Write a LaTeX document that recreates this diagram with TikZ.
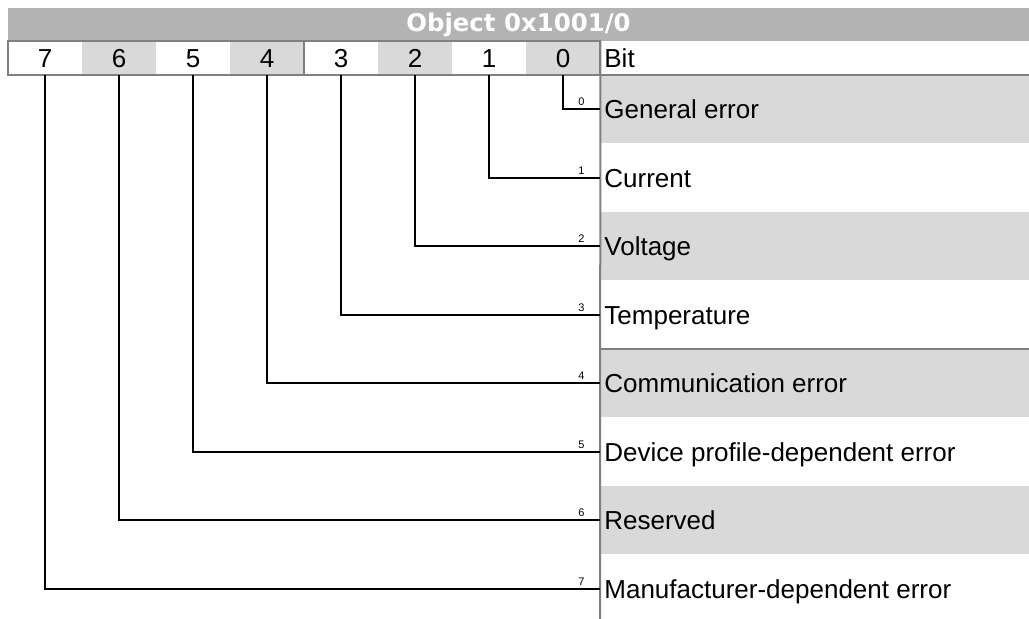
\documentclass[tikz,border=0pt]{standalone}
\usepackage{fontspec}
\setmainfont{Liberation Sans}
\newfontfamily\titlefont{DejaVu Sans}
\usetikzlibrary{positioning}

\definecolor{bargray}{HTML}{B3B3B3}
\definecolor{cellgray}{HTML}{D9D9D9}
\definecolor{rulegray}{HTML}{808080}

\begin{document}
\begin{tikzpicture}[
    x=0.5pt, y=-0.5pt,
    titlebar/.style={rectangle, fill=bargray, text=white, inner sep=0pt,
                     minimum width=510.5pt, minimum height=16.5pt,
                     font=\titlefont\bfseries\fontsize{12.2}{14}\selectfont},
    bitcell/.style={rectangle, inner sep=0pt, minimum width=37pt, minimum height=17pt,
                    text height=9.4pt, text depth=0pt,
                    font=\fontsize{13}{15}\selectfont},
    rowlabel/.style={inner sep=0pt, text height=9.5pt, text depth=0pt,
                     font=\fontsize{13}{15}\selectfont},
    sublabel/.style={inner sep=0pt, font=\fontsize{5.5}{6}\selectfont},
    leader/.style={line width=1pt, black},
    rule/.style={line width=1pt, rulegray}
  ]
    \useasboundingbox (0,0) rectangle (1029,619);

    % Titel
    \node[titlebar] (title) at (518.5,24.5) {Object 0x1001/0};

    % Bitzellen
    \foreach \i/\c in {0/cellgray,1/white,2/cellgray,3/white,4/cellgray,5/white,6/cellgray,7/white}
      \node[bitcell, fill=\c] (b\i) at ({45+74*(7-\i)},58) {\i};
    \node[rowlabel, anchor=base west] (bitlbl) at (604,68) {Bit};

    % Zeilen rechts
    \foreach \i in {0,2,4,6}
      \fill[cellgray] (600,{75+68.5*\i}) rectangle (1029,{143.5+68.5*\i});

    % Linien
    \draw[rule] (b7.north west) rectangle (b0.south east);
    \draw[rule] (b4.north east) -- (b4.south east);
    \draw[rule] (600,75) -- (1029,75);
    \draw[rule] (600,349) -- (1029,349);
    \draw[rule] (b0.north east) -- (600,619);

    % Zuordnung Bit -> Bedeutung
    \foreach \i/\txt in {0/General error, 1/Current, 2/Voltage, 3/Temperature,
                         4/Communication error, 5/Device profile-dependent error,
                         6/Reserved, 7/Manufacturer-dependent error} {
      \coordinate (t\i) at (600,{109.25+68.5*\i});
      \node[rowlabel, right=2pt of t\i] (r\i) {\txt};
      \draw[leader] (b\i.south) |- (t\i);
      \node[sublabel, above left=1.5pt and 7.5pt of t\i] {\i};
    }
  \end{tikzpicture}
\end{document}
